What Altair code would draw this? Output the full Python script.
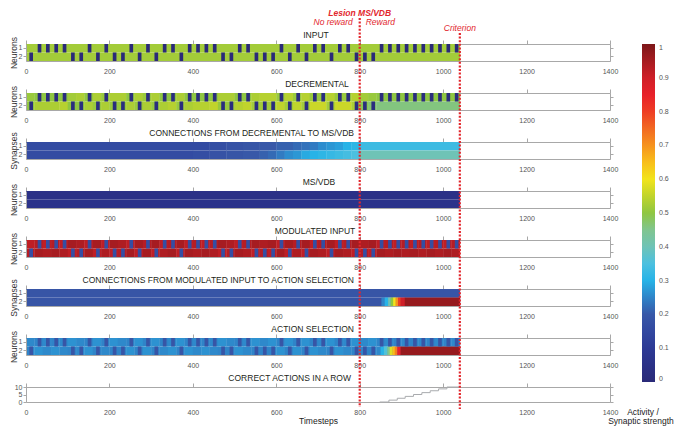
import altair as alt
import pandas as pd

# ---------------- data ----------------
trial_start = [0, 20, 40, 60, 80, 100, 120, 140, 160, 180,
               200, 220, 240, 260, 280, 300, 320, 340, 360, 380,
               400, 420, 440, 460, 480, 500, 520, 540, 560, 580,
               600, 620, 640, 660, 680, 700, 720, 740, 760, 780,
               800, 820, 840, 860, 880, 900, 920, 940, 960, 980,
               1000, 1020]
end_t = 1040
spike_on = 8
spike_off = 16
stim_row = [2, 1, 1, 1, 1, 2, 2, 1, 2, 1,
            2, 2, 1, 2, 1, 2, 1, 1, 2, 1,
            1, 1, 1, 2, 2, 1, 1, 2, 2, 2,
            1, 2, 1, 2, 1, 1, 2, 1, 1, 2,
            2, 2, 1, 1, 1, 1, 1, 1, 1, 1,
            1, 1]

input_bg = 0.52
input_spike = 0.0

dec_bg_1 = [0.51, 0.50, 0.50, 0.50, 0.50, 0.52, 0.53, 0.50, 0.53, 0.51,
            0.53, 0.53, 0.50, 0.53, 0.51, 0.53, 0.50, 0.50, 0.53, 0.50,
            0.50, 0.50, 0.50, 0.53, 0.53, 0.50, 0.50, 0.53, 0.54, 0.54,
            0.51, 0.54, 0.51, 0.54, 0.51, 0.51, 0.54, 0.51, 0.51, 0.54,
            0.52, 0.51, 0.50, 0.50, 0.50, 0.50, 0.50, 0.50, 0.50, 0.50,
            0.50, 0.50]
dec_bg_2 = [0.50, 0.53, 0.53, 0.53, 0.54, 0.50, 0.50, 0.53, 0.51, 0.53,
            0.51, 0.51, 0.53, 0.51, 0.53, 0.51, 0.53, 0.54, 0.51, 0.53,
            0.54, 0.54, 0.55, 0.51, 0.51, 0.54, 0.55, 0.52, 0.52, 0.52,
            0.55, 0.52, 0.55, 0.52, 0.56, 0.56, 0.52, 0.56, 0.56, 0.53,
            0.49, 0.47, 0.46, 0.46, 0.46, 0.46, 0.46, 0.46, 0.46, 0.46,
            0.46, 0.46]
dec_spike = 0.02

conn_dec_1 = [0.16, 0.16, 0.16, 0.16, 0.16, 0.16, 0.16, 0.16, 0.16, 0.16,
              0.16, 0.16, 0.16, 0.16, 0.16, 0.16, 0.16, 0.16, 0.16, 0.16,
              0.16, 0.16, 0.17, 0.17, 0.18, 0.18, 0.19, 0.19, 0.20, 0.20,
              0.21, 0.21, 0.22, 0.23, 0.24, 0.26, 0.27, 0.28, 0.30, 0.31,
              0.33, 0.33, 0.33, 0.33, 0.33, 0.33, 0.33, 0.33, 0.33, 0.33,
              0.33, 0.33]
conn_dec_2 = [0.16, 0.16, 0.16, 0.16, 0.16, 0.16, 0.16, 0.16, 0.16, 0.16,
              0.16, 0.16, 0.16, 0.16, 0.16, 0.16, 0.16, 0.16, 0.16, 0.16,
              0.17, 0.17, 0.18, 0.18, 0.19, 0.19, 0.20, 0.20, 0.21, 0.22,
              0.24, 0.26, 0.27, 0.29, 0.30, 0.31, 0.32, 0.33, 0.34, 0.35,
              0.40, 0.40, 0.40, 0.40, 0.40, 0.40, 0.40, 0.40, 0.40, 0.40,
              0.40, 0.40]

msvdb_1 = 0.05
msvdb_2 = 0.06

mod_bg_1 = [0.92, 0.93, 0.92, 0.93, 0.92, 0.95, 0.94, 0.92, 0.95, 0.92,
            0.95, 0.94, 0.92, 0.95, 0.93, 0.95, 0.92, 0.93, 0.95, 0.92,
            0.93, 0.92, 0.93, 0.95, 0.94, 0.92, 0.93, 0.95, 0.94, 0.95,
            0.92, 0.95, 0.93, 0.95, 0.92, 0.93, 0.95, 0.92, 0.93, 0.95,
            0.94, 0.95, 0.92, 0.93, 0.92, 0.93, 0.92, 0.93, 0.92, 0.93,
            0.92, 0.93]
mod_bg_2 = [0.93, 0.95, 0.94, 0.95, 0.94, 0.92, 0.93, 0.95, 0.92, 0.94,
            0.92, 0.93, 0.95, 0.92, 0.95, 0.92, 0.94, 0.95, 0.92, 0.95,
            0.94, 0.95, 0.94, 0.92, 0.93, 0.95, 0.94, 0.92, 0.93, 0.92,
            0.95, 0.92, 0.94, 0.92, 0.95, 0.94, 0.92, 0.95, 0.94, 0.92,
            0.93, 0.92, 0.95, 0.94, 0.95, 0.94, 0.95, 0.94, 0.95, 0.94,
            0.95, 0.94]
mod_spike = 0.17

conn_mod_1 = 0.19
conn_mod_2 = 0.19
conn_mod_ramp_t = [852, 860, 868, 874, 880, 886, 892, 898, 908]
conn_mod_ramp_v = [0.25, 0.30, 0.40, 0.50, 0.60, 0.70, 0.80, 0.90, 0.97]

act_bg_1 = [0.255, 0.25, 0.255, 0.25, 0.255, 0.265, 0.255, 0.25, 0.265, 0.25,
            0.265, 0.255, 0.25, 0.265, 0.25, 0.265, 0.25, 0.255, 0.265, 0.25,
            0.255, 0.25, 0.255, 0.265, 0.255, 0.25, 0.255, 0.265, 0.255, 0.265,
            0.25, 0.265, 0.25, 0.265, 0.25, 0.255, 0.265, 0.25, 0.255, 0.265,
            0.255, 0.265, 0.25, 0.255, 0.25, 0.255, 0.25, 0.255, 0.25, 0.255,
            0.25, 0.255]
act_bg_2 = [0.25, 0.265, 0.255, 0.265, 0.255, 0.25, 0.255, 0.265, 0.25, 0.255,
            0.25, 0.25, 0.265, 0.25, 0.265, 0.25, 0.255, 0.265, 0.25, 0.265,
            0.255, 0.265, 0.255, 0.25, 0.25, 0.265, 0.255, 0.25, 0.25, 0.25,
            0.265, 0.25, 0.265, 0.25, 0.265, 0.255, 0.25, 0.265, 0.255, 0.25,
            0.25, 0.25, 0.255, 0.255, 0.255, 0.255, 0.255, 0.255, 0.255, 0.255,
            0.255, 0.255]
act_spike = 0.19
act_ramp_t = [850, 858, 866, 872, 878, 884, 890, 898]
act_ramp_v = [0.30, 0.36, 0.45, 0.58, 0.65, 0.72, 0.85, 0.97]

streak_t = [848, 870, 890, 909, 929, 949, 969, 989, 1009, 1040]
streak_n = [0, 1.25, 2.5, 3.75, 5, 6.25, 7.5, 8.75, 10, 10]

lesion_t = 800
criterion_t = 1040

panel_titles = ["INPUT", "DECREMENTAL", "CONNECTIONS FROM DECREMENTAL TO MS/VDB",
                "MS/VDB", "MODULATED INPUT",
                "CONNECTIONS FROM MODULATED INPUT TO ACTION SELECTION",
                "ACTION SELECTION", "CORRECT ACTIONS IN A ROW"]
row_titles = ["Neurons", "Neurons", "Synapses", "Neurons", "Neurons", "Synapses",
              "Neurons"]
cbar_title = ["Activity /", "Synaptic strength"]
x_ticks = [0, 200, 400, 600, 800, 1000, 1200, 1400]
streak_ticks = [0, 5, 10]
cbar_ticks = [0, 0.1, 0.2, 0.3, 0.4, 0.5, 0.6, 0.7, 0.8, 0.9, 1]
c_stops = [0, 0.05, 0.1, 0.15, 0.2, 0.25, 0.3, 0.35, 0.4, 0.45, 0.5,
           0.55, 0.6, 0.65, 0.7, 0.75, 0.8, 0.85, 0.9, 0.95, 1]
c_colors = ["#2a2a78", "#2b3187", "#2d3a95", "#3248a0", "#3858a8", "#2f84c8",
            "#27b3e7", "#4cc0df", "#6fc3b6", "#80c58f", "#8fc641", "#c0d42c",
            "#f2e41b", "#f8be1a", "#f6931e", "#f26922", "#ee3d24", "#e8212a",
            "#cf1f28", "#a61c21", "#7d1719"]

# ---------------- layout / style ----------------
L = 27            # page x of plot left edge
W = 584
H = 17
HL = 15
SP = 32
TOP = 43          # page y of first panel top
AX = "#a8a8a8"
LBL = "#555555"
RED = "#e2262c"
FONT = "Liberation Sans"
LX = 643 - L
SEAM = 0.8        # tiny overlap (in timesteps) so adjacent cells show no white seams

title_place = [("center", 317), ("center", 318), ("right", 355), ("center", 320),
               ("center", 316), ("right", 355), ("right", 355), ("right", 352)]


def val(v, k):
    return v[k] if isinstance(v, list) else v


def merge_row(segs):
    out = []
    for a, b, v in segs:
        if out and out[-1][2] == v and out[-1][1] == a:
            out[-1] = (out[-1][0], b, v)
        else:
            out.append((a, b, v))
    return out


def build(bg1, bg2, spike=None, ramp_row=None, ramp_t=None, ramp_v=None):
    recs = []
    ends = trial_start[1:] + [end_t]
    for row, bg in (("1", bg1), ("2", bg2)):
        segs = [(a, b, val(bg, k)) for k, (a, b) in enumerate(zip(trial_start, ends))]
        for a, b, v in merge_row(segs):
            recs.append({"t": a, "t2": b, "row": row, "v": v})
    if ramp_t is not None:
        rends = ramp_t[1:] + [end_t]
        for a, b, v in zip(ramp_t, rends, ramp_v):
            recs.append({"t": a, "t2": b, "row": ramp_row, "v": v})
    if spike is not None:
        for k, a in enumerate(trial_start):
            recs.append({"t": a + spike_on, "t2": a + spike_off,
                         "row": str(stim_row[k]), "v": spike})
    return pd.DataFrame(recs)


xscale = alt.Scale(domain=[0, 1400], nice=False, zero=False)
rowscale = alt.Scale(domain=["1", "2"], paddingInner=0, paddingOuter=0)
cscale = alt.Scale(domain=c_stops, range=c_colors, interpolate="rgb")

legend = alt.Legend(
    type="gradient", title=None, orient="none", legendX=LX, legendY=0,
    direction="vertical", gradientLength=338, gradientThickness=13,
    gradientStrokeWidth=0, values=cbar_ticks, format=".1~f",
    labelFontSize=7, labelColor=LBL, labelOffset=4, labelOverlap=False,
)


def bottom_axis(title=None):
    if title:
        kw = dict(title=title, titleFontSize=8.5, titleFontWeight="normal",
                  titleColor="#222222", titlePadding=1)
    else:
        kw = dict(title=None)
    return alt.Axis(orient="bottom", values=x_ticks, ticks=False, labelFlush=False,
                    labelPadding=6, labelFontSize=7, labelColor=LBL, format="d",
                    domainColor=AX, grid=False, **kw)


def top_axis():
    return alt.Axis(orient="top", values=x_ticks, labels=False, tickSize=4,
                    tickColor=AX, domainColor=AX, grid=False, title=None)


def left_axis(title, values=None):
    kw = dict(values=values) if values is not None else {}
    if title:
        kw.update(title=title, titleFontSize=8.5, titleFontWeight="normal",
                  titleColor="#333333", titlePadding=0)
    else:
        kw.update(title=None)
    return alt.Axis(orient="left", tickSize=3, labelPadding=1, labelFontSize=7,
                    labelColor=LBL, tickColor=AX, domainColor=AX, labelAngle=0,
                    grid=False, **kw)


def right_axis(values=None):
    kw = dict(values=values) if values is not None else {}
    return alt.Axis(orient="right", labels=False, tickSize=3, tickColor=AX,
                    domainColor=AX, grid=False, title=None, **kw)


frame_df = pd.DataFrame({"t": [0, 0], "t2": [1, 1], "row": ["1", "2"]})


def text_at(label, px, py, align="center", size=8.5, color="#231f20"):
    d = pd.DataFrame({"label": [label]})
    return alt.Chart(d).mark_text(
        font=FONT, fontSize=size, color=color, align=align, baseline="alphabetic"
    ).encode(x=alt.value(px), y=alt.value(py), text="label:N")


def title_mark(i):
    align, px = title_place[i]
    return text_at(panel_titles[i], px - L, -5.7, align)


def heat_panel(i, df, extra=None):
    base = alt.Chart(df).transform_calculate(
        te=f"datum.t2 + {SEAM}"
    ).mark_rect().encode(
        x=alt.X("t:Q", scale=xscale, axis=bottom_axis()),
        x2="te:Q",
        y=alt.Y("row:N", scale=rowscale, axis=left_axis(row_titles[i])),
        color=alt.Color("v:Q", scale=cscale, legend=legend),
    )
    frame = alt.Chart(frame_df).mark_rect(opacity=0).encode(
        x=alt.X("t:Q", scale=xscale, axis=top_axis()),
        x2="t2:Q",
        y=alt.Y("row:N", scale=rowscale, axis=right_axis()),
    )
    layers = [base, frame, title_mark(i)] + (extra or [])
    return alt.layer(*layers).resolve_axis(x="independent", y="independent").properties(
        width=W, height=H)


def note(text, t, page_y, align, dx, bold=False):
    d = pd.DataFrame({"t": [t], "label": [text]})
    return alt.Chart(d).mark_text(
        font=FONT, fontSize=8.5, fontStyle="italic",
        fontWeight="bold" if bold else "normal", color=RED,
        align=align, baseline="alphabetic", dx=dx,
    ).encode(x=alt.X("t:Q", scale=xscale, axis=None), y=alt.value(page_y - TOP),
             text="label:N")


notes = [
    note("Lesion MS/VDB", lesion_t, 14.5, "center", 0, bold=True),
    note("No reward", lesion_t, 23.5, "right", -7),
    note("Reward", lesion_t, 23.5, "left", 6),
    note("Criterion", criterion_t, 29.5, "center", 0),
]

p1 = heat_panel(0, build(input_bg, input_bg, input_spike), notes)
p2 = heat_panel(1, build(dec_bg_1, dec_bg_2, dec_spike))
p3 = heat_panel(2, build(conn_dec_1, conn_dec_2))
p4 = heat_panel(3, build(msvdb_1, msvdb_2))
p5 = heat_panel(4, build(mod_bg_1, mod_bg_2, mod_spike))
p6 = heat_panel(5, build(conn_mod_1, conn_mod_2, None, "2", conn_mod_ramp_t, conn_mod_ramp_v))
p7 = heat_panel(6, build(act_bg_1, act_bg_2, act_spike, "2", act_ramp_t, act_ramp_v))

# last panel
LAST_TOP = TOP + 7 * (H + SP)
streak_df = pd.DataFrame({"t": streak_t, "n": streak_n})
yq = alt.Scale(domain=[0, 10], nice=False)
line = alt.Chart(streak_df).mark_line(color="#a9abae", strokeWidth=1, interpolate="step-after").encode(
    x=alt.X("t:Q", scale=xscale, axis=bottom_axis("Timesteps")),
    y=alt.Y("n:Q", scale=yq, axis=left_axis(None, streak_ticks)),
)
frame8 = alt.Chart(streak_df).mark_line(opacity=0).encode(
    x=alt.X("t:Q", scale=xscale, axis=top_axis()),
    y=alt.Y("n:Q", scale=yq, axis=right_axis(streak_ticks)),
)
rule_l = alt.Chart(pd.DataFrame({"t": [lesion_t]})).mark_rule(
    color=RED, strokeWidth=2.2, strokeDash=[2, 1.6]).encode(
    x=alt.X("t:Q", scale=xscale, axis=None),
    y=alt.value(17 - LAST_TOP), y2=alt.value(406 - LAST_TOP))
rule_c = alt.Chart(pd.DataFrame({"t": [criterion_t]})).mark_rule(
    color=RED, strokeWidth=2.2, strokeDash=[2, 1.6]).encode(
    x=alt.X("t:Q", scale=xscale, axis=None),
    y=alt.value(32 - LAST_TOP), y2=alt.value(408 - LAST_TOP))
cb_t1 = text_at(cbar_title[0], 644 - L, 414 - LAST_TOP, "center", 8.5, "#222222")
cb_t2 = text_at(cbar_title[1], 642 - L, 423 - LAST_TOP, "center", 8.5, "#222222")
p8 = alt.layer(line, frame8, title_mark(7), rule_l, rule_c, cb_t1, cb_t2).resolve_axis(
    x="independent", y="independent").properties(width=W, height=HL)

chart = alt.vconcat(p1, p2, p3, p4, p5, p6, p7, p8, spacing=SP, bounds="flush",
                    padding=0).resolve_scale(
    x="independent", y="independent", color="shared").configure_view(
    stroke=None).configure(font=FONT)

chart.save("out.html", embed_options={"renderer": "svg", "actions": False})
